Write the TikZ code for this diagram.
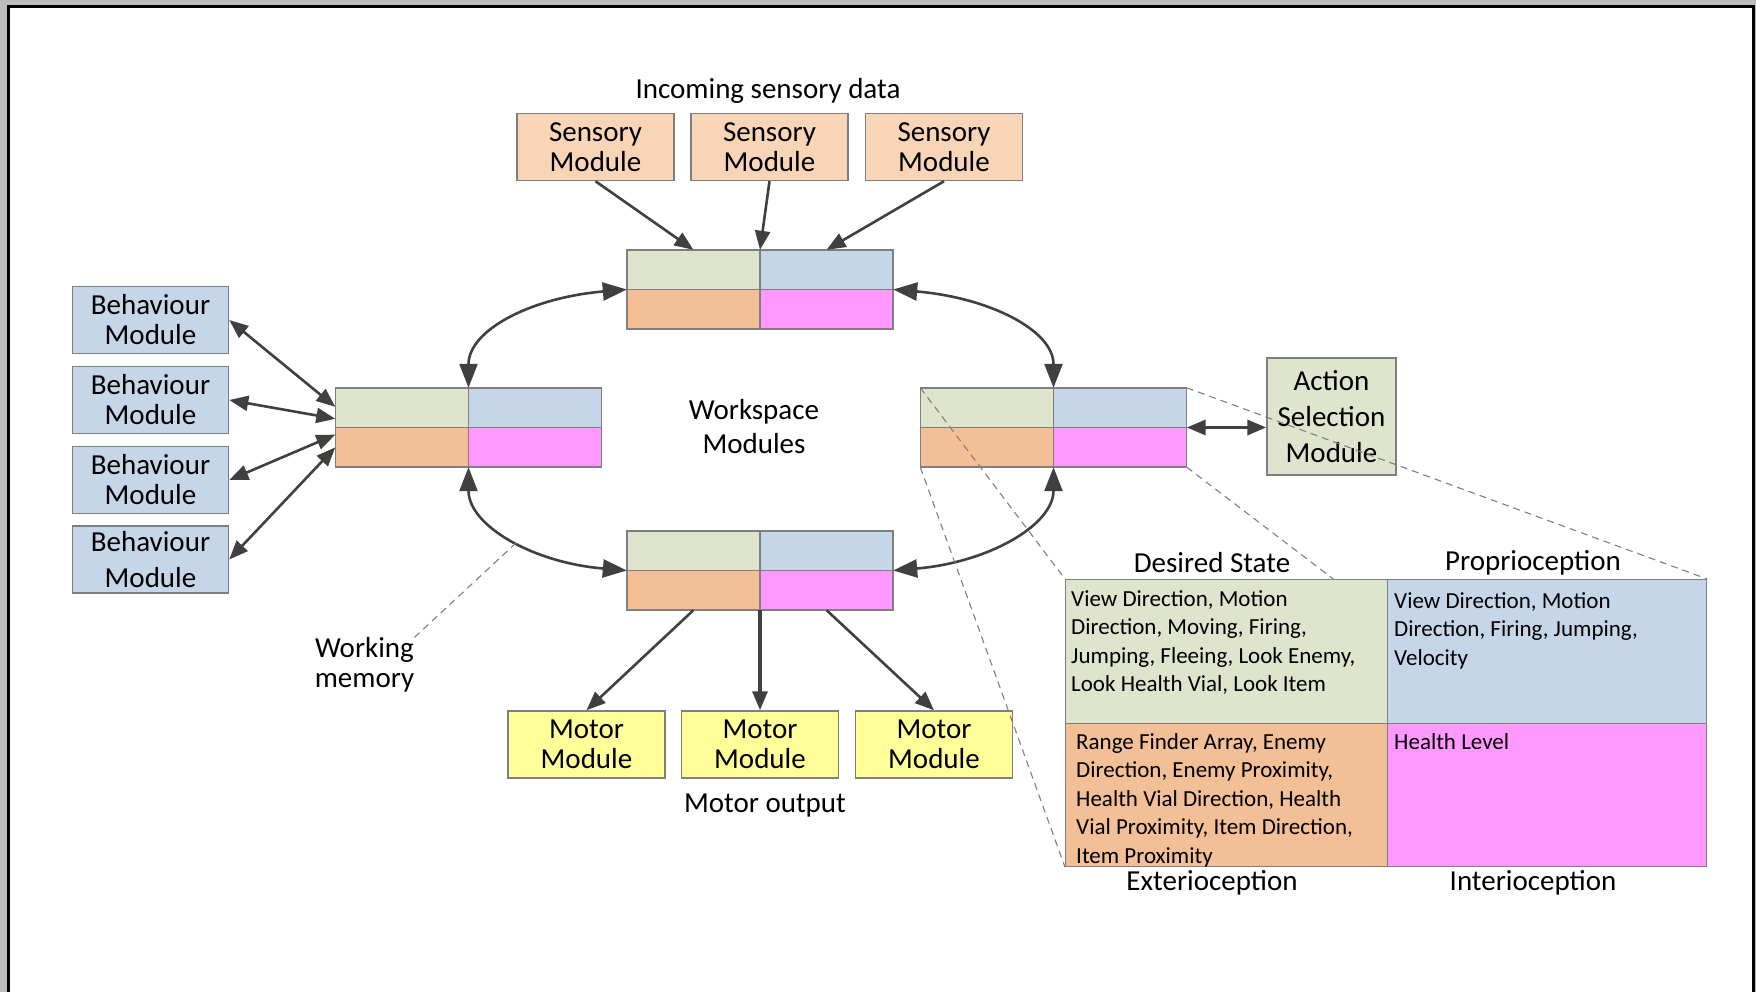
\documentclass[tikz,border=0pt]{standalone}
\usepackage{fontspec}
\setmainfont{Carlito}
\usetikzlibrary{arrows.meta,calc}

\definecolor{sensfill}{HTML}{F9D5B8}
\definecolor{cgreen}{HTML}{DFE4CC}
\definecolor{cblue}{HTML}{C4D6E7}
\definecolor{corange}{HTML}{F2BF97}
\definecolor{cpink}{HTML}{FF99FF}
\definecolor{motfill}{HTML}{FFFF99}
\definecolor{boxgray}{HTML}{7F7F7F}
\definecolor{arrgray}{HTML}{404040}
\definecolor{bggray}{HTML}{BDBDBD}

\newcommand{\bigfont}{\fontsize{29}{30}\selectfont}
\newcommand{\smallfont}{\fontsize{23}{28.5}\selectfont}

% one workspace module: four coloured cells
\newcommand{\wsmodule}[2]{%
  \node[wsframe] (#1) at (#2) {};
  \fill[cgreen] (#1.north west) rectangle (#1.center);
  \fill[cblue] (#1.north) rectangle (#1.east);
  \fill[corange] (#1.west) rectangle (#1.south);
  \fill[cpink] (#1.center) rectangle (#1.south east);
  \draw[boxline] (#1.north west) rectangle (#1.south east)
    (#1.north) -- (#1.south) (#1.west) -- (#1.east);
}

\begin{document}
\begin{tikzpicture}[x=1pt,y=-1pt,
  every node/.style={font=\bigfont,inner sep=0pt},
  boxline/.style={draw=boxgray,line width=1.5pt},
  module/.style={boxline,minimum width=157pt,minimum height=67pt,align=center},
  sensory/.style={module,fill=sensfill},
  behaviour/.style={module,fill=cblue,minimum width=156pt},
  motor/.style={module,fill=motfill},
  wsframe/.style={minimum width=266pt,minimum height=79pt},
  cell/.style={boxline,line width=1.2pt,anchor=north west},
  celltext/.style={font=\smallfont,align=left,anchor=north west},
  link/.style={draw=arrgray,line width=2.6pt,-{Triangle[length=19pt,width=15pt]}},
  twoway/.style={draw=arrgray,line width=2.6pt,
    {Triangle[length=19pt,width=15pt]}-{Triangle[length=19pt,width=15pt]}},
  loop/.style={draw=arrgray,line width=2.6pt,
    {Triangle[length=24pt,width=18pt]}-{Triangle[length=24pt,width=18pt]}},
  zoomline/.style={draw=gray,line width=1.1pt,dash pattern=on 7pt off 5pt}]

\useasboundingbox (0,0) rectangle (1756,992);
\fill[bggray] (0,0) rectangle (1756,992);
\fill[white] (8.5,6.5) rectangle (1753.5,995);
\draw[line width=3pt] (8.5,995) -- (8.5,6.5) -- (1753.5,6.5) -- (1753.5,995);

% sensory side
\node (insens) at (768,91) {Incoming sensory data};
\node[sensory] (s1) at (595.5,147) {Sensory\\Module};
\node[sensory] (s2) at (769.5,147) {Sensory\\Module};
\node[sensory] (s3) at (944,147) {Sensory\\Module};

% workspace modules
\wsmodule{tw}{760,289.5}
\wsmodule{lw}{468.5,427.5}
\wsmodule{rw}{1053.5,427.5}
\wsmodule{bw}{760,570.5}
\node[align=center] (wsname) at (754,427) {Workspace\\[4pt]Modules};

% behaviour side
\node[behaviour] (b1) at (150.5,320) {Behaviour\\Module};
\node[behaviour] (b2) at (150.5,400) {Behaviour\\Module};
\node[behaviour] (b3) at (150.5,480) {Behaviour\\Module};
\node[behaviour] (b4) at (150.5,559.5) {Behaviour\\[6pt]Module};

\node[module,fill=cgreen,minimum width=129pt,minimum height=117pt]
  (act) at (1331.5,416.5) {Action\\[6pt]Selection\\[6pt]Module};

% motor side
\node[motor] (m1) at (586.5,744.5) {Motor\\Module};
\node[motor] (m2) at (760,744.5) {Motor\\Module};
\node[motor] (m3) at (934,744.5) {Motor\\Module};
\node (motout) at (765,806) {Motor output};

\node[align=center] (wm) at (364.5,665) {Working\\memory};
\coordinate (wmtip) at (516,543);

% zoomed contents of a workspace module
\node[cell,fill=cgreen,minimum width=322pt,minimum height=144pt] (ds) at (1065,579) {};
\node[cell,fill=cblue,minimum width=319pt,minimum height=144pt] (pr) at (1387,579) {};
\node[cell,fill=corange,minimum width=322pt,minimum height=143pt] (ex) at (1065,723) {};
\node[cell,fill=cpink,minimum width=319pt,minimum height=143pt] (in) at (1387,723) {};
\node[celltext] (dstext) at (1071,590) {View Direction, Motion\\Direction, Moving, Firing,\\Jumping, Fleeing, Look Enemy,\\Look Health Vial, Look Item};
\node[celltext] (prtext) at (1394,592) {View Direction, Motion\\Direction, Firing, Jumping,\\Velocity};
\node[celltext] (extext) at (1076,733) {Range Finder Array, Enemy\\Direction, Enemy Proximity,\\Health Vial Direction, Health\\Vial Proximity, Item Direction,\\Item Proximity};
\node[celltext] (intext) at (1394,733) {Health Level};
\node (dslab) at (1212,563) {Desired State};
\node (prlab) at (1533,563) {Proprioception};
\node (exlab) at (1212,883) {Exterioception};
\node (inlab) at (1533,883) {Interioception};

% connectors
\draw[link] (s1.south) -- ($(tw.north west)!0.25!(tw.north east)$);
\draw[link] (s2.south) -- (tw.north);
\draw[link] (s3.south) -- ($(tw.north west)!0.75!(tw.north east)$);

\draw[loop] (lw.north) .. controls +(0,-58) and +(-95,8) .. (tw.west);
\draw[loop] (tw.east) .. controls +(95,8) and +(0,-58) .. (rw.north);
\draw[loop] (lw.south) .. controls +(0,58) and +(-95,-8) .. (bw.west);
\draw[loop] (rw.south) .. controls +(0,58) and +(95,-8) .. (bw.east);

\draw[twoway] (b1.east) -- ($(lw.north west)!0.24!(lw.south west)$);
\draw[twoway] (b2.east) -- ($(lw.north west)!0.39!(lw.south west)$);
\draw[twoway] (b3.east) -- ($(lw.north west)!0.59!(lw.south west)$);
\draw[twoway] (b4.east) -- ($(lw.north west)!0.75!(lw.south west)$);

\draw[twoway,line width=3.4pt] (rw.east) -- (act.west |- rw.east);

\draw[link] ($(bw.south west)!0.25!(bw.south east)$) -- (m1.north);
\draw[link,line width=3.4pt] (bw.south) -- (m2.north);
\draw[link] ($(bw.south west)!0.75!(bw.south east)$) -- (m3.north);

\draw[zoomline] (wm.north east) -- (wmtip);
\draw[zoomline] (rw.north west) -- (ds.north west);
\draw[zoomline] (rw.south west) -- (ex.south west);
\draw[zoomline] (rw.north east) -- (pr.north east);
\draw[zoomline] (rw.south east) -- ($(ds.north west)!0.83!(ds.north east)$);

\end{tikzpicture}
\end{document}
